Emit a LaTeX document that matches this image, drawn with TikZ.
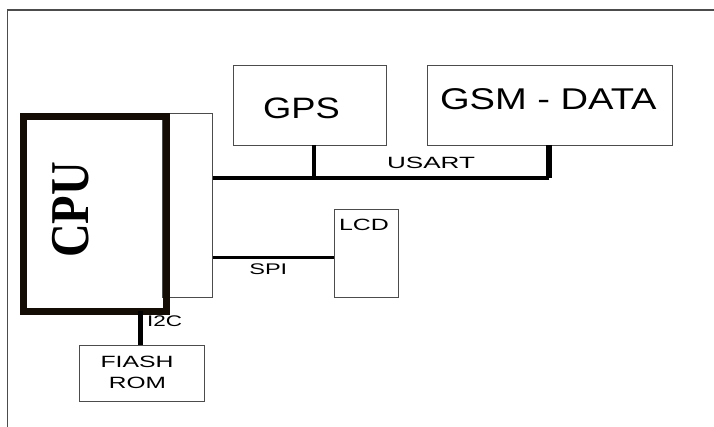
\documentclass[tikz,border=0pt]{standalone}
\usepackage{fontspec}
\setmainfont{Liberation Sans}
\newfontfamily\cpufont{Liberation Serif}
\begin{document}
\begin{tikzpicture}[x=1pt,y=-1pt,
  thinbox/.style={draw=black!70,line width=1pt,inner sep=0pt,anchor=north west},
  lbl/.style={anchor=base,inner sep=0pt,text=black},
  bus/.style={draw=black,line width=4pt},
]
\useasboundingbox (0,0) rectangle (714,427);
% frame
\draw[black!70,line width=1.4pt] (714,10) -- (7.7,10) -- (7.7,427);
% interface box behind CPU
\node[thinbox,minimum width=49.5pt,minimum height=184pt] (ifc) at (162,113) {};
% CPU
\node[draw=black!90!brown,line width=7pt,minimum width=143pt,minimum height=194pt,inner sep=0pt,anchor=north west] (cpu) at (19.5,113.5) {};
\node[rotate=90,inner sep=0pt] (cputxt) at (71,210) {\scalebox{1}[1.17]{\cpufont\bfseries\fontsize{46.7}{46.7}\selectfont CPU}};
% GPS
\node[thinbox,minimum width=153pt,minimum height=80pt] (gps) at (232.7,65) {};
\node[lbl] (gpstxt) at (301.5,118.3) {\scalebox{1.23}[1]{\fontsize{29.5}{30}\selectfont GPS}};
% GSM
\node[thinbox,minimum width=245pt,minimum height=80pt] (gsm) at (426.7,65) {};
\node[lbl] (gsmtxt) at (548.3,110) {\scalebox{1.27}[1]{\fontsize{30}{30}\selectfont GSM - DATA}};
% LCD
\node[thinbox,minimum width=64pt,minimum height=88pt] (lcd) at (334,209) {};
\node[lbl] (lcdtxt) at (364,231) {\scalebox{1.53}[1]{\fontsize{16.3}{16}\selectfont LCD}};
% FLASH
\node[thinbox,minimum width=125pt,minimum height=55.7pt] (rom) at (79,345) {};
\node[lbl] (romtxt1) at (137,367.7) {\scalebox{1.52}[1]{\fontsize{16.3}{16}\selectfont FIASH}};
\node[lbl] (romtxt2) at (137.5,388.3) {\scalebox{1.5}[1]{\fontsize{16.3}{16}\selectfont ROM}};
% USART bus
\coordinate (busL) at (ifc.east |- 0,177.7);
\coordinate (tapG) at (313.7,145);
\coordinate (tapM) at (549,145);
\draw[bus] (busL) -- (tapM |- busL);
\draw[bus] (tapG) -- (tapG |- busL);
\draw[bus,line width=5.5pt] (tapM) -- ([yshift=-0.5pt]tapM |- busL);
\node[lbl] (usart) at (431,168.3) {\scalebox{1.6}[1]{\fontsize{16.3}{16}\selectfont USART}};
% SPI
\coordinate (spiL) at (ifc.east |- 0,257.3);
\draw[draw=black,line width=3pt] (spiL) -- (lcd.west |- spiL);
\node[lbl] (spi) at (268.3,274.3) {\scalebox{1.53}[1]{\fontsize{15.4}{15}\selectfont SPI}};
% I2C
\coordinate (i2cT) at (140,311);
\draw[draw=black,line width=5pt] (i2cT) -- (i2cT |- rom.north);
\node[lbl] (i2c) at (164.5,326) {\scalebox{1.46}[1]{\fontsize{15.4}{15}\selectfont I2C}};
\end{tikzpicture}
\end{document}
